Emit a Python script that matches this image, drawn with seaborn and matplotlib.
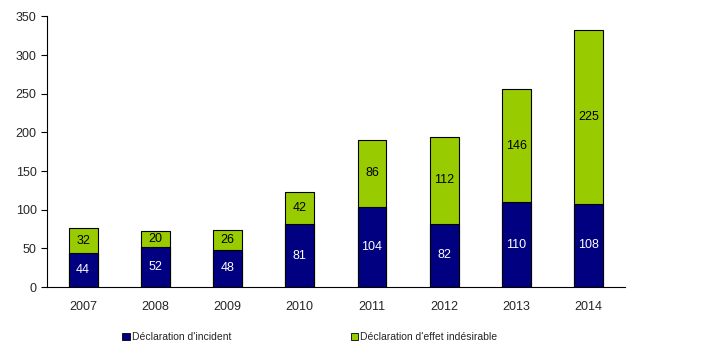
import numpy as np
import pandas as pd
import matplotlib
matplotlib.use("Agg")
import matplotlib.pyplot as plt
import seaborn as sns
from matplotlib.patches import Patch

years = ["2007", "2008", "2009", "2010", "2011", "2012", "2013", "2014"]
incidents = [44, 52, 48, 81, 104, 82, 110, 108]
effets = [32, 20, 26, 42, 86, 112, 146, 225]

NAVY = "#000080"
GREEN = "#99CC00"

sns.set_style("white")
plt.rcParams["font.family"] = ["Liberation Sans", "DejaVu Sans"]

df = pd.DataFrame({"annee": years, "incident": incidents, "effet": effets})
df["total"] = df["incident"] + df["effet"]

fig = plt.figure(figsize=(7.09, 3.57), dpi=100)
ax = fig.add_axes([0.0663, 0.196, 0.815, 0.758])

sns.barplot(data=df, x="annee", y="total", color=GREEN, width=0.4,
            edgecolor="black", linewidth=0.8, saturation=1, ax=ax)
sns.barplot(data=df, x="annee", y="incident", color=NAVY, width=0.4,
            edgecolor="black", linewidth=0.8, saturation=1, ax=ax)

# valeurs dans les segments
for i, (a, b) in enumerate(zip(incidents, effets)):
    ax.text(i, a / 2, str(a), ha="center", va="center", color="white", fontsize=9)
    ax.text(i, a + b / 2, str(b), ha="center", va="center", color="black", fontsize=9)

ax.set_ylim(0, 350)
ax.set_xlim(-0.5, 7.5)
ax.set_yticks(range(0, 351, 50))
ax.set_xlabel("")
ax.set_ylabel("")
for s in ["top", "right"]:
    ax.spines[s].set_visible(False)
for s in ["left", "bottom"]:
    ax.spines[s].set_color("black")
    ax.spines[s].set_linewidth(0.8)

ax.set_xticks(np.arange(-0.5, 8.0, 1.0), minor=True)
ax.tick_params(axis="x", which="major", length=0, pad=10, labelsize=9)
ax.tick_params(axis="x", which="minor", length=4, direction="out", color="black")
ax.tick_params(axis="y", length=4, direction="out", color="black", labelsize=9, left=True)

handles = [Patch(facecolor=NAVY, edgecolor="black", linewidth=0.6, label="Déclaration d'incident"),
           Patch(facecolor=GREEN, edgecolor="black", linewidth=0.6, label="Déclaration d'effet indésirable")]
fig.legend(handles=handles, loc="center", bbox_to_anchor=(0.437, 0.056), ncol=2,
           frameon=False, fontsize=7.5, handlelength=0.7, handleheight=0.7,
           handletextpad=0.2, columnspacing=11.5)

fig.savefig("out.png", dpi=100)
